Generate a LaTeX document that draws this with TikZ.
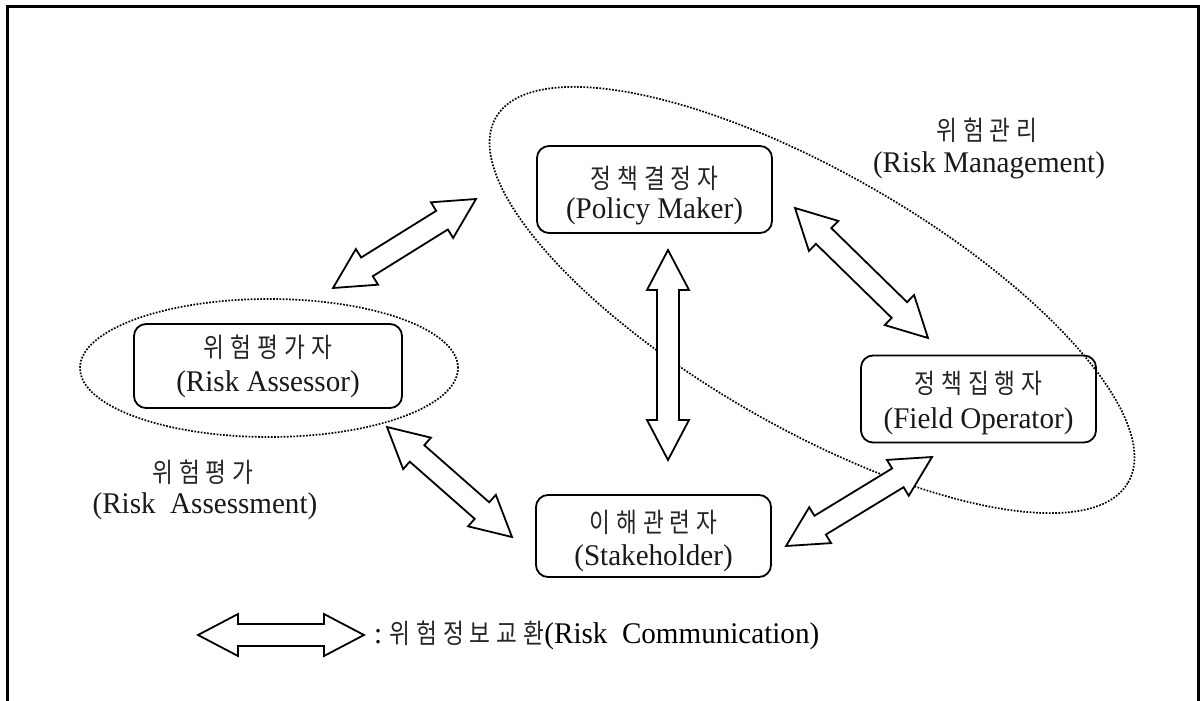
\documentclass[tikz,border=0pt]{standalone}
\usepackage{fontspec}
\setmainfont{Liberation Serif}
\newfontfamily\en[FakeStretch=0.97]{Liberation Serif}
\newfontfamily\kr[FakeStretch=0.84,LetterSpace=22]{Noto Sans CJK KR}
\usetikzlibrary{calc,shapes.geometric}

% arrow geometry: head length, head half width, shaft half width
\def\ahl{40pt}
\def\ahw{21pt}
\def\asw{11pt}

% hollow double-headed block arrow between two named points
\newcommand\dblarrow[2]{%
  \path ($(#1)!\ahl!(#2)$) coordinate (h1) ($(#2)!\ahl!(#1)$) coordinate (h2);
  \draw[blockarrow] (#1)
    -- ($(h1)!\ahw!90:(#2)$) -- ($(h1)!\asw!90:(#2)$)
    -- ($(h2)!\asw!-90:(#1)$) -- ($(h2)!\ahw!-90:(#1)$)
    -- (#2)
    -- ($(h2)!\ahw!90:(#1)$) -- ($(h2)!\asw!90:(#1)$)
    -- ($(h1)!\asw!-90:(#2)$) -- ($(h1)!\ahw!-90:(#2)$)
    -- cycle;}

\begin{document}
\begin{tikzpicture}[x=1pt,y=-1pt,
  actor/.style={draw, line width=1.8pt, rounded corners=12pt,
    minimum width=235pt, minimum height=87pt, inner sep=0pt},
  zone/.style={ellipse, draw=black, dash pattern=on 1.7pt off 1.5pt, line width=1.7pt, inner sep=0pt},
  blockarrow/.style={draw, line width=1.8pt, fill=white, line join=miter},
  kt/.style={font=\kr\fontsize{27}{30}\selectfont, text=black!85, inner sep=0pt},
  et/.style={font=\en\fontsize{30}{33}\selectfont, text=black!90, inner sep=0pt},
  ]
\useasboundingbox (0,0) rectangle (1202,701);

% page frame, open at the bottom
\draw[line width=3pt] (7,701) -- (7,7) -- (1198,7) -- (1198,701);

% dotted zones
\node[zone, minimum width=730pt, minimum height=254pt, rotate=-30] (rmzone) at (812,300) {};
\node[zone, minimum width=378pt, minimum height=138pt] (razone) at (269,368) {};

% actors
\node[actor] (pm) at (654.5,189.5) {};
\node[kt] (pmk) at (654.5,178) {정책결정자};
\node[et] (pme) at (654.5,211) {(Policy Maker)};

\node[actor, minimum width=268pt, minimum height=84pt] (ra) at (268,366) {};
\node[kt] (rak) at (268,347) {위험평가자};
\node[et] (rae) at (268,384) {(Risk Assessor)};

\node[actor] (fo) at (978.5,399) {};
\node[kt] (fok) at (978.5,383) {정책집행자};
\node[et] (foe) at (978.5,421) {(Field Operator)};

\node[actor, minimum height=82pt] (sh) at (653.5,536) {};
\node[kt] (shk) at (653.5,522) {이해관련자};
\node[et] (she) at (653.5,558) {(Stakeholder)};

% zone labels
\node[kt] (rmk) at (987,130) {위험관리};
\node[et] (rme) at (989,165) {(Risk Management)};
\node[kt] (rask) at (203,472) {위험평가};
\node[et] (rase) at (205,506) {(Risk\ \ Assessment)};

% communication arrows
\coordinate (a1s) at (333,288);  \coordinate (a1e) at (476,199);
\coordinate (a2s) at (795,208);  \coordinate (a2e) at (928,338);
\coordinate (a3s) at (668,250);  \coordinate (a3e) at (668,460);
\coordinate (a4s) at (387,427);  \coordinate (a4e) at (512,537);
\coordinate (a5s) at (786,546);  \coordinate (a5e) at (932,457);
\dblarrow{a1s}{a1e}
\dblarrow{a2s}{a2e}
\dblarrow{a3s}{a3e}
\dblarrow{a4s}{a4e}
\dblarrow{a5s}{a5e}

% legend
\coordinate (lgs) at (198,635); \coordinate (lge) at (364,635);
\dblarrow{lgs}{lge}
\node[anchor=west, inner sep=0pt] (lgt) at (374,635)
  {{\en\fontsize{30}{33}\selectfont :\ }{\kr\fontsize{27}{30}\selectfont\color{black!85}위험정보교환}{\en\fontsize{30}{33}\selectfont(Risk\ \ Communication)}};
\end{tikzpicture}
\end{document}
